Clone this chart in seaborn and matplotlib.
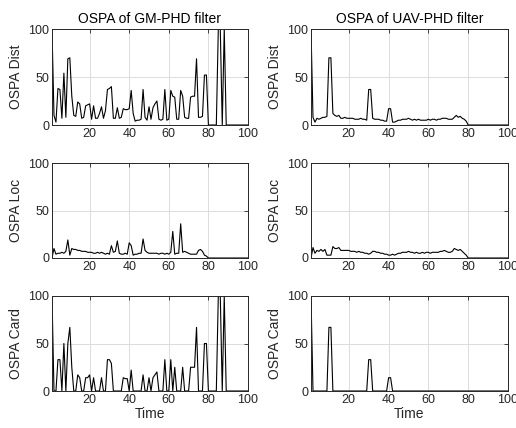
import numpy as np
import pandas as pd
import matplotlib
matplotlib.use('Agg')
import matplotlib.pyplot as plt
import seaborn as sns

# Time steps
time = list(range(1, 101))

# GM-PHD filter OSPA components
gm_dist = [100, 10, 3, 38, 37, 7, 54, 8, 69, 70,
           30, 10, 9, 24, 22, 7, 8, 20, 21, 22,
           6, 20, 7, 7, 12, 19, 7, 15, 37, 38,
           40, 7, 7, 18, 7, 8, 17, 16, 16, 17,
           36, 12, 4, 5, 5, 6, 37, 8, 5, 19,
           6, 18, 22, 25, 6, 5, 6, 37, 5, 6,
           36, 30, 29, 6, 6, 36, 30, 8, 7, 7,
           29, 30, 30, 69, 8, 8, 9, 52, 52, 0,
           0, 0, 0, 0, 100, 100, 0, 100, 0, 0,
           0, 0, 0, 0, 0, 0, 0, 0, 0, 0]
gm_loc = [0, 10, 4, 5, 5, 6, 5, 7, 19, 3,
          10, 9, 9, 8, 8, 7, 7, 7, 6, 6,
          6, 5, 5, 6, 5, 6, 5, 4, 5, 4,
          13, 6, 7, 18, 5, 4, 4, 5, 4, 16,
          13, 3, 4, 4, 5, 5, 20, 8, 6, 5,
          5, 5, 5, 5, 4, 5, 5, 4, 5, 4,
          6, 28, 4, 5, 5, 36, 6, 7, 6, 5,
          4, 4, 4, 4, 8, 9, 7, 3, 2, 0,
          0, 0, 0, 0, 0, 0, 0, 0, 0, 0,
          0, 0, 0, 0, 0, 0, 0, 0, 0, 0]
gm_card = [100, 0, 0, 33, 33, 0, 50, 0, 50, 67,
           25, 0, 0, 17, 14, 0, 0, 14, 14, 17,
           0, 14, 0, 0, 0, 14, 0, 0, 33, 33,
           29, 0, 0, 0, 0, 0, 14, 13, 13, 0,
           22, 0, 0, 0, 0, 0, 17, 0, 0, 14,
           0, 14, 17, 20, 0, 0, 0, 33, 0, 0,
           33, 0, 25, 0, 0, 0, 25, 0, 0, 0,
           25, 25, 25, 67, 0, 0, 0, 50, 50, 0,
           0, 0, 0, 0, 100, 100, 0, 100, 0, 0,
           0, 0, 0, 0, 0, 0, 0, 0, 0, 0]

# UAV-PHD filter OSPA components
uav_dist = [100, 8, 3, 7, 6, 7, 8, 8, 9, 70,
            70, 12, 10, 9, 10, 7, 7, 8, 7, 7,
            7, 7, 6, 6, 6, 7, 6, 6, 5, 37,
            37, 7, 6, 6, 6, 5, 5, 4, 4, 17,
            17, 3, 3, 4, 5, 5, 6, 6, 6, 7,
            6, 5, 6, 5, 6, 5, 5, 5, 5, 6,
            5, 6, 6, 5, 6, 6, 7, 7, 7, 6,
            6, 6, 8, 10, 8, 9, 7, 6, 4, 0,
            0, 0, 0, 0, 0, 0, 0, 0, 0, 0,
            0, 0, 0, 0, 0, 0, 0, 0, 0, 0]
uav_loc = [0, 11, 5, 8, 7, 9, 7, 9, 3, 3,
           3, 12, 10, 10, 11, 8, 8, 8, 8, 8,
           7, 7, 7, 6, 7, 6, 6, 5, 5, 4,
           5, 7, 7, 6, 6, 5, 5, 4, 4, 3,
           3, 4, 3, 4, 5, 5, 6, 6, 6, 7,
           6, 6, 5, 6, 5, 5, 6, 5, 6, 6,
           5, 6, 6, 6, 6, 7, 7, 8, 7, 6,
           6, 7, 10, 9, 8, 9, 7, 5, 3, 0,
           0, 0, 0, 0, 0, 0, 0, 0, 0, 0,
           0, 0, 0, 0, 0, 0, 0, 0, 0, 0]
uav_card = [100, 0, 0, 0, 0, 0, 0, 0, 0, 67,
            67, 0, 0, 0, 0, 0, 0, 0, 0, 0,
            0, 0, 0, 0, 0, 0, 0, 0, 0, 33,
            33, 0, 0, 0, 0, 0, 0, 0, 0, 14,
            14, 0, 0, 0, 0, 0, 0, 0, 0, 0,
            0, 0, 0, 0, 0, 0, 0, 0, 0, 0,
            0, 0, 0, 0, 0, 0, 0, 0, 0, 0,
            0, 0, 0, 0, 0, 0, 0, 0, 0, 0,
            0, 0, 0, 0, 0, 0, 0, 0, 0, 0,
            0, 0, 0, 0, 0, 0, 0, 0, 0, 0]

titles = ['OSPA of GM-PHD filter', 'OSPA of UAV-PHD filter']
ylabels = ['OSPA Dist', 'OSPA Loc', 'OSPA Card']
series = [[gm_dist, uav_dist], [gm_loc, uav_loc], [gm_card, uav_card]]

sns.set_style('white')
plt.rcParams['font.family'] = ['Liberation Sans', 'DejaVu Sans']
plt.rcParams['xtick.direction'] = 'in'
plt.rcParams['ytick.direction'] = 'in'

fig = plt.figure(figsize=(5.16, 4.28), dpi=100)

# axes boxes in pixels, matching the reference layout
lefts = [52 / 516, 311 / 516]
widths = [196 / 516, 197 / 516]
tops = [29, 163, 296]
heights = [96, 95, 95]

for r in range(3):
    for c in range(2):
        ax = fig.add_axes([lefts[c], 1 - (tops[r] + heights[r]) / 428,
                           widths[c], heights[r] / 428])
        sns.lineplot(x=time, y=series[r][c], ax=ax, color='black', linewidth=0.8)
        ax.set_xlim(1, 100)
        ax.set_ylim(0, 100)
        ax.set_xticks([20, 40, 60, 80, 100])
        ax.set_yticks([0, 50, 100])
        ax.grid(True, color='#dcdcdc', linewidth=0.7)
        ax.set_axisbelow(True)
        ax.tick_params(labelsize=9, colors='#262626', length=3, width=0.6,
                       top=True, right=True, pad=2)
        for s in ax.spines.values():
            s.set_color('#262626')
            s.set_linewidth(0.7)
        ax.set_ylabel(ylabels[r], fontsize=10, color='#262626', labelpad=4)
        if r == 0:
            ax.set_title(titles[c], fontsize=10, color='black', pad=4)
        if r == 2:
            ax.set_xlabel('Time', fontsize=10, color='#262626', labelpad=1)

plt.savefig('out.png', dpi=100)
